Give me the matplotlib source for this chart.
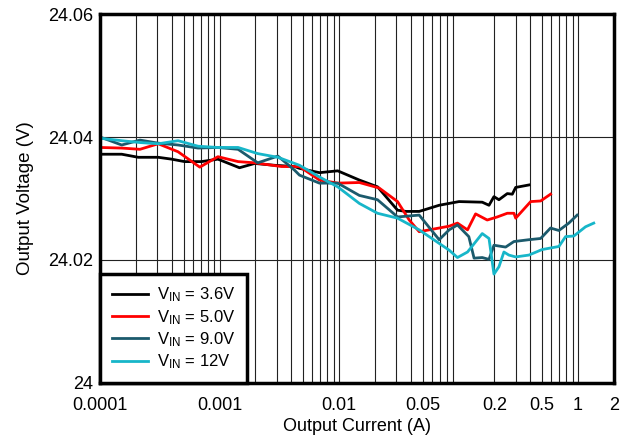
import numpy as np
import matplotlib
matplotlib.use('Agg')
import matplotlib.pyplot as plt
from matplotlib.ticker import FixedLocator, LogLocator, NullFormatter

plt.rcParams['font.family'] = ['Liberation Sans', 'DejaVu Sans']
plt.rcParams['mathtext.fontset'] = 'custom'
plt.rcParams['mathtext.rm'] = 'Liberation Sans'

# VIN = 3.6V
i_36 = [1e-4, 1.52e-4, 2.09e-4, 3.07e-4, 3.97e-4, 5.1e-4, 7.06e-4, 9.7e-4, 1.47e-3, 1.97e-3,
        2.89e-3, 4.25e-3, 4.67e-3, 6.86e-3, 9.75e-3, 0.0148, 0.021, 0.0309, 0.0363, 0.0469,
        0.0689, 0.101, 0.158, 0.18, 0.198, 0.218, 0.256, 0.282, 0.301, 0.388]
v_36 = [24.0372, 24.0372, 24.0367, 24.0367, 24.0364, 24.0360, 24.0360, 24.0364, 24.0350, 24.0357,
        24.0354, 24.0352, 24.0349, 24.0342, 24.0345, 24.0330, 24.0319, 24.0281, 24.0279, 24.0279,
        24.0289, 24.0295, 24.0294, 24.0289, 24.0303, 24.0298, 24.0308, 24.0307, 24.0318, 24.0322]

# VIN = 5.0V
i_50 = [1e-4, 1.52e-4, 2.16e-4, 3.07e-4, 4.5e-4, 6.84e-4, 9.7e-4, 1.43e-3, 1.97e-3, 3.29e-3,
        4.67e-3, 6.86e-3, 9.75e-3, 0.0148, 0.0217, 0.0309, 0.0387, 0.0469, 0.0689, 0.0835,
        0.098, 0.119, 0.139, 0.174, 0.211, 0.256, 0.291, 0.301, 0.402, 0.487, 0.589]
v_50 = [24.0383, 24.0382, 24.0380, 24.0389, 24.0376, 24.0351, 24.0368, 24.0360, 24.0358, 24.0352,
        24.0352, 24.0330, 24.0325, 24.0326, 24.0317, 24.0295, 24.0265, 24.0246, 24.0252, 24.0255,
        24.0260, 24.0249, 24.0275, 24.0265, 24.0270, 24.0276, 24.0276, 24.0268, 24.0295, 24.0296, 24.0307]

# VIN = 9.0V
i_90 = [1e-4, 1.52e-4, 2.16e-4, 3.07e-4, 4.5e-4, 6.62e-4, 9.7e-4, 1.43e-3, 2.09e-3, 3.08e-3,
        4.25e-3, 4.67e-3, 6.86e-3, 9.75e-3, 0.0148, 0.021, 0.0309, 0.0469, 0.0689, 0.0835,
        0.098, 0.122, 0.135, 0.158, 0.18, 0.198, 0.248, 0.291, 0.388, 0.487, 0.589, 0.692,
        0.838, 0.984]
v_90 = [24.0400, 24.0387, 24.0395, 24.0390, 24.0387, 24.0382, 24.0383, 24.0380, 24.0358, 24.0369,
        24.0346, 24.0338, 24.0325, 24.0325, 24.0305, 24.0298, 24.0270, 24.0273, 24.0233, 24.0249,
        24.0257, 24.0238, 24.0203, 24.0204, 24.0201, 24.0224, 24.0221, 24.0230, 24.0233, 24.0235,
        24.0252, 24.0248, 24.0260, 24.0273]

# VIN = 12V
i_12 = [1e-4, 1.52e-4, 2.16e-4, 3.07e-4, 4.5e-4, 6.62e-4, 9.7e-4, 1.43e-3, 2.09e-3, 3.08e-3,
        4.25e-3, 4.67e-3, 6.86e-3, 9.75e-3, 0.0148, 0.021, 0.0309, 0.0469, 0.0689, 0.0835,
        0.098, 0.119, 0.158, 0.18, 0.198, 0.218, 0.24, 0.264, 0.301, 0.388, 0.501, 0.692,
        0.787, 0.923, 1.156, 1.355]
v_12 = [24.0398, 24.0394, 24.0391, 24.0389, 24.0394, 24.0385, 24.0383, 24.0383, 24.0373, 24.0367,
        24.0357, 24.0354, 24.0335, 24.0319, 24.0292, 24.0276, 24.0268, 24.0249, 24.0227, 24.0216,
        24.0204, 24.0213, 24.0243, 24.0235, 24.0177, 24.0189, 24.0213, 24.0208, 24.0205, 24.0208,
        24.0217, 24.0222, 24.0238, 24.0239, 24.0254, 24.0260]

x_ticks = [1e-4, 1e-3, 1e-2, 0.05, 0.2, 0.5, 1, 2]
x_labels = ['0.0001', '0.001', '0.01', '0.05', '0.2', '0.5', '1', '2']
y_ticks = [24, 24.02, 24.04, 24.06]
y_labels = ['24', '24.02', '24.04', '24.06']

fig = plt.figure(figsize=(6.31, 4.38), dpi=100)
ax = fig.add_axes([0.1585, 0.1256, 0.8145, 0.8424])

lw = 2.0
ax.plot(i_36, v_36, color='#000000', lw=lw, label=r'$\mathregular{V_{IN}}$ = 3.6V')
ax.plot(i_50, v_50, color='#ff0000', lw=lw, label=r'$\mathregular{V_{IN}}$ = 5.0V')
ax.plot(i_90, v_90, color='#1b5a6c', lw=lw, label=r'$\mathregular{V_{IN}}$ = 9.0V')
ax.plot(i_12, v_12, color='#17b6c9', lw=lw, label=r'$\mathregular{V_{IN}}$ = 12V')

ax.set_xscale('log')
ax.set_xlim(1e-4, 2)
ax.set_ylim(24, 24.06)

ax.xaxis.set_major_locator(FixedLocator(x_ticks))
ax.set_xticklabels(x_labels)
ax.xaxis.set_minor_locator(LogLocator(base=10, subs=np.arange(2, 10), numticks=20))
ax.xaxis.set_minor_formatter(NullFormatter())
ax.set_yticks(y_ticks)
ax.set_yticklabels(y_labels)

ax.tick_params(axis='both', which='both', length=0, labelsize=13, colors='black')
ax.tick_params(axis='x', pad=10)
ax.tick_params(axis='y', pad=5)

ax.grid(True, axis='x', which='both', color='#222222', lw=0.8)
ax.grid(True, axis='y', which='major', color='#222222', lw=0.8)
ax.set_axisbelow(True)

for s in ax.spines.values():
    s.set_linewidth(2.5)

ax.set_xlabel('Output Current (A)', fontsize=13, labelpad=3)
ax.set_ylabel('Output Voltage (V)', fontsize=13.5, labelpad=10)

leg = ax.legend(loc='lower left', fontsize=12, frameon=True, fancybox=False,
                borderaxespad=0, handlelength=2.2, handletextpad=0.5,
                labelspacing=0.22, borderpad=0.7)
leg.get_frame().set_edgecolor('black')
leg.get_frame().set_linewidth(2.5)
leg.get_frame().set_alpha(1)

fig.savefig('out.png', dpi=100)
